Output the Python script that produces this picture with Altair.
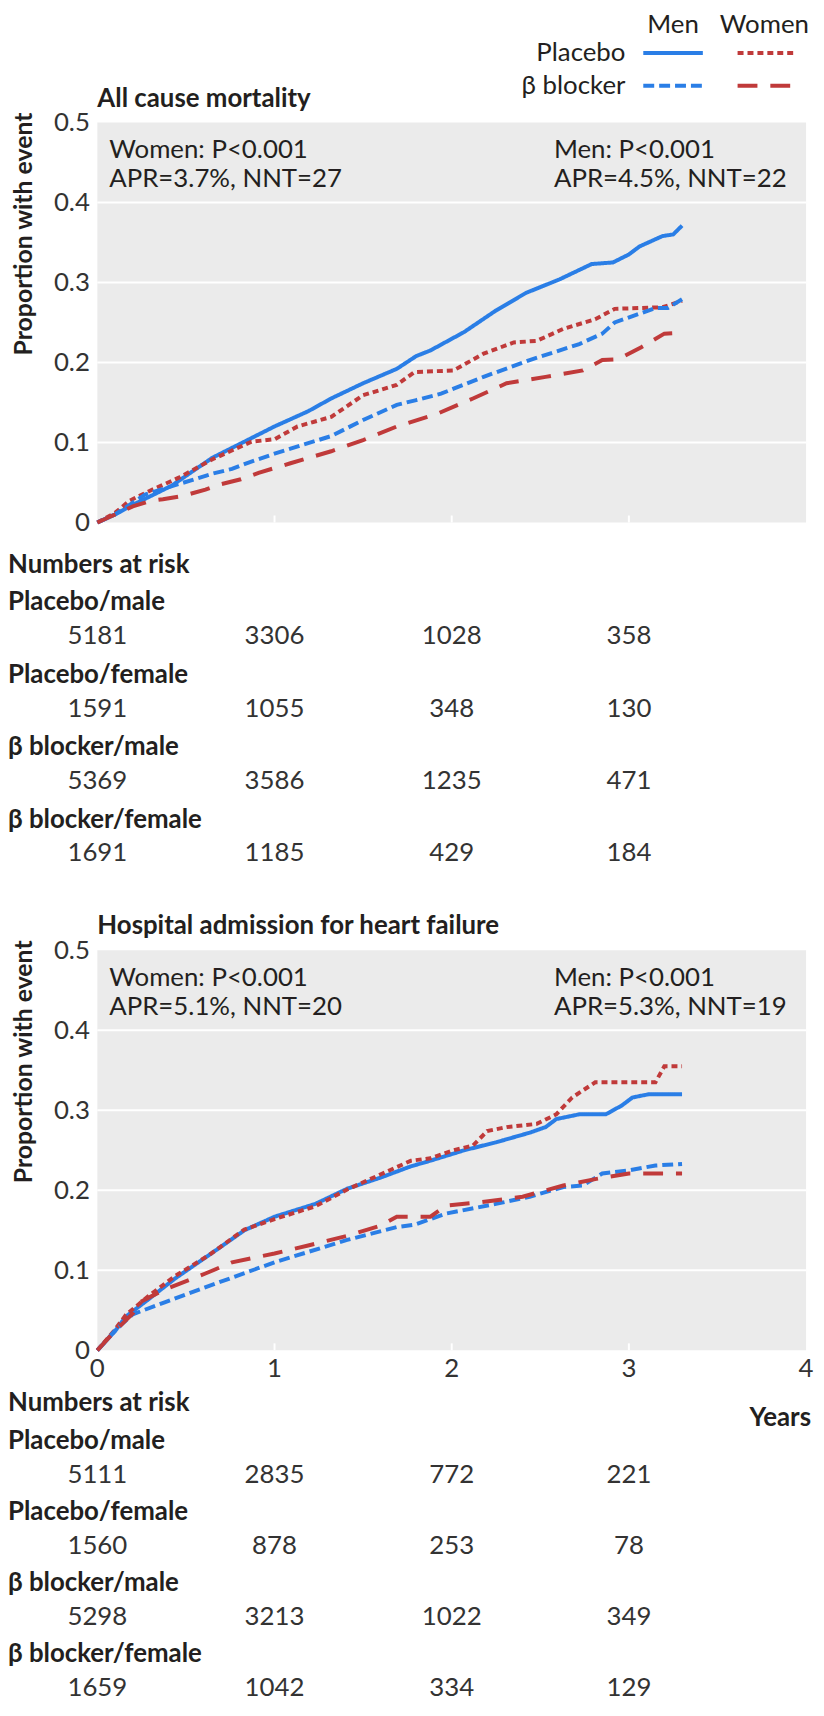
import altair as alt
import pandas as pd

FONT = "Lato"
BLUE = "#2a7ee6"
RED = "#c03a3a"
GRAY = "#ebebeb"
INK = "#231f20"
LABEL = "#333333"

W, H = 714, 1237
TOP_RANGE = [403, 0]
BOT_RANGE = [1237, 834]

series = ["Placebo/male", "Placebo/female", "β blocker/male", "β blocker/female"]
series_colors = [BLUE, RED, BLUE, RED]
series_dash = [[1, 0], [6, 4], [11, 5], [20, 13]]

x_ticks = [0, 1, 2, 3, 4]
x_tick_labels = ["0", "1", "2", "3", "4"]
y_ticks = [0, 0.1, 0.2, 0.3, 0.4, 0.5]
grid_vals = [0.1, 0.2, 0.3, 0.4]
inner_ticks = [1, 2, 3]
risk_times = [0, 1, 2, 3]
x_domain = [0, 4]
y_domain = [0, 0.5]

# ---- All cause mortality ----
mort_pm_t = [0, 0.10, 0.20, 0.42, 0.65, 0.83, 1.00, 1.19, 1.32, 1.50, 1.69, 1.80, 1.88, 2.07, 2.25, 2.42, 2.61, 2.79, 2.91, 3.00, 3.06, 3.19, 3.25, 3.30]
mort_pm_p = [0, 0.010, 0.022, 0.046, 0.081, 0.101, 0.120, 0.139, 0.155, 0.174, 0.192, 0.208, 0.215, 0.238, 0.265, 0.287, 0.304, 0.323, 0.325, 0.335, 0.345, 0.358, 0.360, 0.371]
mort_pf_t = [0, 0.10, 0.18, 0.30, 0.46, 0.65, 0.87, 1.00, 1.13, 1.32, 1.50, 1.69, 1.79, 2.01, 2.18, 2.35, 2.48, 2.63, 2.81, 2.92, 3.19, 3.30]
mort_pf_p = [0, 0.012, 0.027, 0.040, 0.056, 0.079, 0.101, 0.104, 0.120, 0.132, 0.159, 0.172, 0.188, 0.190, 0.211, 0.225, 0.227, 0.242, 0.254, 0.267, 0.269, 0.277]
mort_bm_t = [0, 0.10, 0.27, 0.46, 0.65, 0.76, 0.83, 1.00, 1.32, 1.50, 1.69, 1.80, 1.94, 2.18, 2.44, 2.72, 2.85, 2.92, 3.15, 3.22, 3.30]
mort_bm_p = [0, 0.010, 0.035, 0.048, 0.061, 0.067, 0.073, 0.086, 0.108, 0.128, 0.147, 0.153, 0.161, 0.182, 0.203, 0.223, 0.236, 0.250, 0.268, 0.268, 0.279]
mort_bf_t = [0, 0.10, 0.20, 0.30, 0.37, 0.48, 0.61, 0.70, 0.81, 0.91, 1.09, 1.32, 1.50, 1.69, 1.92, 2.12, 2.31, 2.53, 2.74, 2.85, 2.94, 3.07, 3.20, 3.30]
mort_bf_p = [0, 0.010, 0.020, 0.027, 0.029, 0.033, 0.041, 0.048, 0.054, 0.062, 0.074, 0.089, 0.103, 0.120, 0.136, 0.155, 0.174, 0.182, 0.190, 0.203, 0.204, 0.219, 0.236, 0.237]

# ---- Hospital admission for heart failure ----
hf_pm_t = [0, 0.05, 0.10, 0.16, 0.29, 0.44, 0.63, 0.83, 1.00, 1.23, 1.41, 1.60, 1.77, 1.88, 2.07, 2.25, 2.44, 2.53, 2.59, 2.72, 2.87, 2.96, 3.02, 3.11, 3.30]
hf_pm_p = [0, 0.012, 0.024, 0.042, 0.064, 0.090, 0.119, 0.150, 0.167, 0.183, 0.202, 0.216, 0.230, 0.237, 0.250, 0.260, 0.272, 0.279, 0.289, 0.295, 0.295, 0.306, 0.316, 0.320, 0.320]
hf_pf_t = [0, 0.05, 0.10, 0.16, 0.29, 0.44, 0.63, 0.83, 1.00, 1.23, 1.41, 1.60, 1.77, 1.88, 2.01, 2.12, 2.20, 2.31, 2.48, 2.59, 2.68, 2.81, 3.15, 3.20, 3.30]
hf_pf_p = [0, 0.013, 0.026, 0.044, 0.068, 0.093, 0.119, 0.151, 0.164, 0.180, 0.201, 0.220, 0.237, 0.240, 0.250, 0.256, 0.274, 0.279, 0.283, 0.295, 0.316, 0.335, 0.335, 0.355, 0.355]
hf_bm_t = [0, 0.05, 0.10, 0.20, 0.38, 0.60, 0.75, 1.00, 1.41, 1.69, 1.79, 1.97, 2.25, 2.44, 2.63, 2.74, 2.85, 3.00, 3.15, 3.30]
hf_bm_p = [0, 0.012, 0.025, 0.045, 0.060, 0.078, 0.090, 0.110, 0.138, 0.154, 0.157, 0.171, 0.183, 0.192, 0.204, 0.206, 0.221, 0.225, 0.231, 0.233]
hf_bf_t = [0, 0.09, 0.20, 0.24, 0.37, 0.52, 0.61, 0.76, 1.00, 1.19, 1.41, 1.60, 1.69, 1.88, 1.97, 2.16, 2.40, 2.63, 2.81, 3.00, 3.30]
hf_bf_p = [0, 0.022, 0.046, 0.060, 0.075, 0.088, 0.096, 0.110, 0.121, 0.131, 0.143, 0.156, 0.167, 0.167, 0.181, 0.185, 0.192, 0.206, 0.214, 0.221, 0.221]

# ---- Numbers at risk ----
mort_risk = {
    "Placebo/male": ["5181", "3306", "1028", "358"],
    "Placebo/female": ["1591", "1055", "348", "130"],
    "β blocker/male": ["5369", "3586", "1235", "471"],
    "β blocker/female": ["1691", "1185", "429", "184"],
}
hf_risk = {
    "Placebo/male": ["5111", "2835", "772", "221"],
    "Placebo/female": ["1560", "878", "253", "78"],
    "β blocker/male": ["5298", "3213", "1022", "349"],
    "β blocker/female": ["1659", "1042", "334", "129"],
}

mort_notes = (["Women: P<0.001", "APR=3.7%, NNT=27"], ["Men: P<0.001", "APR=4.5%, NNT=22"])
hf_notes = (["Women: P<0.001", "APR=5.1%, NNT=20"], ["Men: P<0.001", "APR=5.3%, NNT=19"])

one = pd.DataFrame({"k": [0]})
xs = alt.Scale(domain=x_domain, nice=False)

TXT = 26
BOLD = 26


def ys(rng):
    return alt.Scale(domain=y_domain, range=rng, nice=False, zero=False)


def long_df(parts):
    rows = []
    for name, ts, ps in parts:
        for i, (t, p) in enumerate(zip(ts, ps)):
            rows.append({"series": name, "t": t, "p": p, "o": i})
    return pd.DataFrame(rows)


def txt(s, x, y, size=TXT, weight="normal", align="left", angle=0,
        baseline="alphabetic", color=INK):
    mk = dict(align=align, baseline=baseline, font=FONT, fontSize=size,
              fontWeight=weight, color=color)
    if angle:
        mk["angle"] = angle
    return alt.Chart(one).mark_text(**mk).encode(
        x=alt.value(x), y=alt.value(y), text=alt.value(s))


def panel(rng, parts, notes, title, risk, top_px, table_y, table_step, show_x):
    bottom_px = rng[0]
    layers = []
    bg = pd.DataFrame({"x0": [x_domain[0]], "x1": [x_domain[1]],
                       "y0": [y_domain[0]], "y1": [y_domain[1]]})
    layers.append(alt.Chart(bg).mark_rect(color=GRAY).encode(
        x=alt.X("x0:Q", scale=xs, axis=None), x2="x1",
        y=alt.Y("y0:Q", scale=ys(rng), axis=None), y2="y1"))
    yaxis = alt.Axis(orient="left", values=y_ticks,
                     labelExpr="datum.value == 0 ? '0' : format(datum.value, '.1f')",
                     domain=False, ticks=False, grid=False, title=None,
                     labelFont=FONT, labelFontSize=TXT, labelColor=LABEL,
                     labelPadding=8)
    layers.append(alt.Chart(pd.DataFrame({"v": grid_vals})).mark_rule(
        color="white", strokeWidth=2).encode(
        y=alt.Y("v:Q", scale=ys(rng), axis=yaxis),
        x=alt.value(0), x2=alt.value(W)))
    layers.append(alt.Chart(pd.DataFrame({"t": inner_ticks})).mark_rule(
        color="white", strokeWidth=2).encode(
        x=alt.X("t:Q", scale=xs, axis=None),
        y=alt.value(bottom_px - 7), y2=alt.value(bottom_px)))
    if show_x:
        layers.append(alt.Chart(pd.DataFrame({"t": x_ticks, "lab": x_tick_labels})).mark_text(
            align="center", baseline="alphabetic", font=FONT, fontSize=TXT,
            color=LABEL).encode(
            x=alt.X("t:Q", scale=xs, axis=None), y=alt.value(bottom_px + 27),
            text="lab:N"))
    df = long_df(parts)
    layers.append(alt.Chart(df).mark_line(strokeWidth=4, clip=False).encode(
        x=alt.X("t:Q", scale=xs, axis=None),
        y=alt.Y("p:Q", scale=ys(rng), axis=None),
        color=alt.Color("series:N", scale=alt.Scale(domain=series, range=series_colors), legend=None),
        strokeDash=alt.StrokeDash("series:N", scale=alt.Scale(domain=series, range=series_dash), legend=None),
        detail="series:N", order="o:Q"))
    # annotations
    (wn, mn) = notes
    layers.append(txt(wn[0], 12, top_px + 36))
    layers.append(txt(wn[1], 12, top_px + 65))
    layers.append(txt(mn[0], 460, top_px + 36))
    layers.append(txt(mn[1], 460, top_px + 65))
    # title and y title
    layers.append(txt(title, 0, top_px - 16, size=BOLD, weight="bold"))
    layers.append(txt("Proportion with event", -74, top_px - 10, size=25, weight="bold",
                      align="right", angle=270, baseline="middle"))
    # numbers at risk table
    layers.append(txt("Numbers at risk", -90, table_y, size=BOLD, weight="bold"))
    for k, name in enumerate(series):
        ly = table_y + 38 + table_step * k
        ny = table_y + 72 + table_step * k
        layers.append(txt(name, -90, ly, size=BOLD, weight="bold"))
        rdf = pd.DataFrame({"t": risk_times, "n": risk[name]})
        layers.append(alt.Chart(rdf).mark_text(
            align="center", baseline="alphabetic", font=FONT, fontSize=TXT,
            color=LABEL).encode(
            x=alt.X("t:Q", scale=xs, axis=None), y=alt.value(ny), text="n:N"))
    return layers


top_layers = panel(TOP_RANGE,
                   [("Placebo/male", mort_pm_t, mort_pm_p),
                    ("Placebo/female", mort_pf_t, mort_pf_p),
                    ("β blocker/male", mort_bm_t, mort_bm_p),
                    ("β blocker/female", mort_bf_t, mort_bf_p)],
                   mort_notes, "All cause mortality", mort_risk,
                   top_px=0, table_y=453.5, table_step=73, show_x=False)
bot_layers = panel(BOT_RANGE,
                   [("Placebo/male", hf_pm_t, hf_pm_p),
                    ("Placebo/female", hf_pf_t, hf_pf_p),
                    ("β blocker/male", hf_bm_t, hf_bm_p),
                    ("β blocker/female", hf_bf_t, hf_bf_p)],
                   hf_notes, "Hospital admission for heart failure", hf_risk,
                   top_px=834, table_y=1298.5, table_step=71.5, show_x=True)

# legend (top right)
legend = [
    txt("Men", 580, -90, align="center"),
    txt("Women", 672, -90, align="center"),
    txt("Placebo", 532, -62, align="right"),
    txt("β blocker", 532, -29, align="right"),
]
leg_lines = [
    (550, 610, -70, BLUE, series_dash[0]),
    (645, 702, -70, RED, series_dash[1]),
    (550, 610, -37, BLUE, series_dash[2]),
    (645, 702, -37, RED, series_dash[3]),
]
for x1, x2, yy, col, dash in leg_lines:
    legend.append(alt.Chart(one).mark_rule(color=col, strokeWidth=4, strokeDash=dash).encode(
        x=alt.value(x1), x2=alt.value(x2), y=alt.value(yy)))
legend.append(txt("Years", 719, 1313, size=BOLD, weight="bold", align="right"))

chart = alt.layer(*top_layers, *bot_layers, *legend).resolve_scale(
    y="independent").properties(
    width=W, height=H,
    autosize=alt.AutoSizeParams(type="none"),
    padding={"left": 90, "top": 109, "right": 10, "bottom": 348},
).configure_view(stroke=None, fill=None)

chart.save("out.html", embed_options={"renderer": "svg", "actions": False})
